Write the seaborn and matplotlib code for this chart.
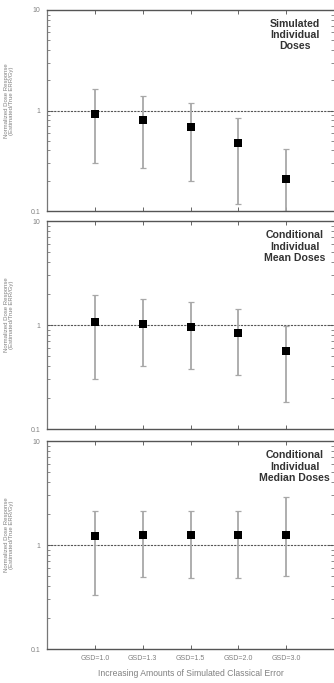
import numpy as np
import pandas as pd
import matplotlib
matplotlib.use("Agg")
import matplotlib.pyplot as plt
from matplotlib.ticker import LogLocator, NullFormatter, FixedLocator, FixedFormatter
import seaborn as sns

sns.set_theme(style="white")
plt.rcParams["font.family"] = ["Liberation Sans", "DejaVu Sans"]

# Simulated classical error levels
gsd_labels = ["GSD=1.0", "GSD=1.3", "GSD=1.5", "GSD=2.0", "GSD=3.0"]

# Normalized dose response (estimate, lower, upper) for each dose type
panel_titles = [
    "Simulated\nIndividual\nDoses",
    "Conditional\nIndividual\nMean Doses",
    "Conditional\nIndividual\nMedian Doses",
]
sim_est = [0.93, 0.80, 0.69, 0.475, 0.207]
sim_lo = [0.30, 0.27, 0.20, 0.117, 0.10]
sim_hi = [1.62, 1.38, 1.20, 0.84, 0.41]

mean_est = [1.07, 1.02, 0.95, 0.83, 0.56]
mean_lo = [0.305, 0.40, 0.38, 0.33, 0.18]
mean_hi = [1.96, 1.78, 1.66, 1.43, 0.98]

median_est = [1.21, 1.25, 1.24, 1.25, 1.24]
median_lo = [0.33, 0.49, 0.48, 0.48, 0.50]
median_hi = [2.12, 2.12, 2.12, 2.12, 2.90]

panels = [
    (sim_est, sim_lo, sim_hi),
    (mean_est, mean_lo, mean_hi),
    (median_est, median_lo, median_hi),
]

W, H = 334, 683
fig = plt.figure(figsize=(W / 100, H / 100), dpi=100)

# (top, bottom) pixel rows of each panel
rows = [(10, 211), (221, 429), (441, 649)]
left_px, right_px = 47, 334

grey_txt = "#808080"
for i, ((top, bot), (est, lo, hi), title) in enumerate(zip(rows, panels, panel_titles)):
    ax = fig.add_axes([left_px / W, 1 - bot / H, (right_px - left_px) / W, (bot - top) / H])
    df = pd.DataFrame({
        "pos": np.arange(1, len(gsd_labels) + 1),
        "est": est, "lo": lo, "hi": hi,
    })
    ax.set_yscale("log")
    ax.set_ylim(0.1, 10)
    ax.set_xlim(0, 6.0)

    # reference line at unity
    ax.axhline(1.0, color="#555555", lw=0.8, ls=(0, (2, 1)), zorder=1)

    ax.errorbar(df["pos"], df["est"],
                yerr=[df["est"] - df["lo"], df["hi"] - df["est"]],
                fmt="none", ecolor="#a8a8a8", elinewidth=1.3,
                capsize=2.2, capthick=0.9, zorder=2, clip_on=True)
    sns.scatterplot(data=df, x="pos", y="est", marker="s", s=34,
                    color="black", edgecolor="black", linewidth=0,
                    ax=ax, zorder=3, legend=False)

    ax.set_xlabel("")
    ax.set_ylabel("Normalized Dose Response\n(Estimated/True ERR/Gy)",
                  fontsize=4.3, color=grey_txt, linespacing=1.1)
    ax.yaxis.set_label_coords(-0.115, 0.55)

    ax.yaxis.set_major_locator(FixedLocator([0.1, 1, 10]))
    ax.yaxis.set_major_formatter(FixedFormatter(["0.1", "1", "10"]))
    ax.yaxis.set_minor_locator(LogLocator(base=10, subs=np.arange(2, 10)))
    ax.yaxis.set_minor_formatter(NullFormatter())
    ax.tick_params(axis="y", which="major", direction="in", length=4, width=0.7,
                   color="#777777", labelsize=5, labelcolor=grey_txt, pad=5,
                   left=True, right=True)
    ax.tick_params(axis="y", which="minor", direction="in", length=2, width=0.6,
                   color="#777777", left=True, right=True)

    ax.set_xticks(df["pos"])
    if i == 2:
        ax.set_xticklabels(gsd_labels)
        ax.set_xlabel("Increasing Amounts of Simulated Classical Error",
                      fontsize=6.2, color=grey_txt, labelpad=5)
    else:
        ax.set_xticklabels([])
    ax.tick_params(axis="x", which="major", direction="in", length=3, width=0.7,
                   color="#666666", labelsize=5, labelcolor=grey_txt, pad=4.5,
                   bottom=True, top=True)

    for side in ["top", "bottom"]:
        ax.spines[side].set_color("#555555")
        ax.spines[side].set_linewidth(1.0)
        ax.spines[side].set_linestyle((0, (2, 1)))
    ax.spines["left"].set_color("#777777")
    ax.spines["left"].set_linewidth(0.9)
    ax.spines["right"].set_visible(False)

    ax.text(5.18, 0.955, title, transform=ax.get_xaxis_transform(),
            ha="center", va="top", fontsize=7.6, fontweight="bold",
            color="#333333", linespacing=1.15)

fig.savefig("out.png", dpi=100, facecolor="white")
